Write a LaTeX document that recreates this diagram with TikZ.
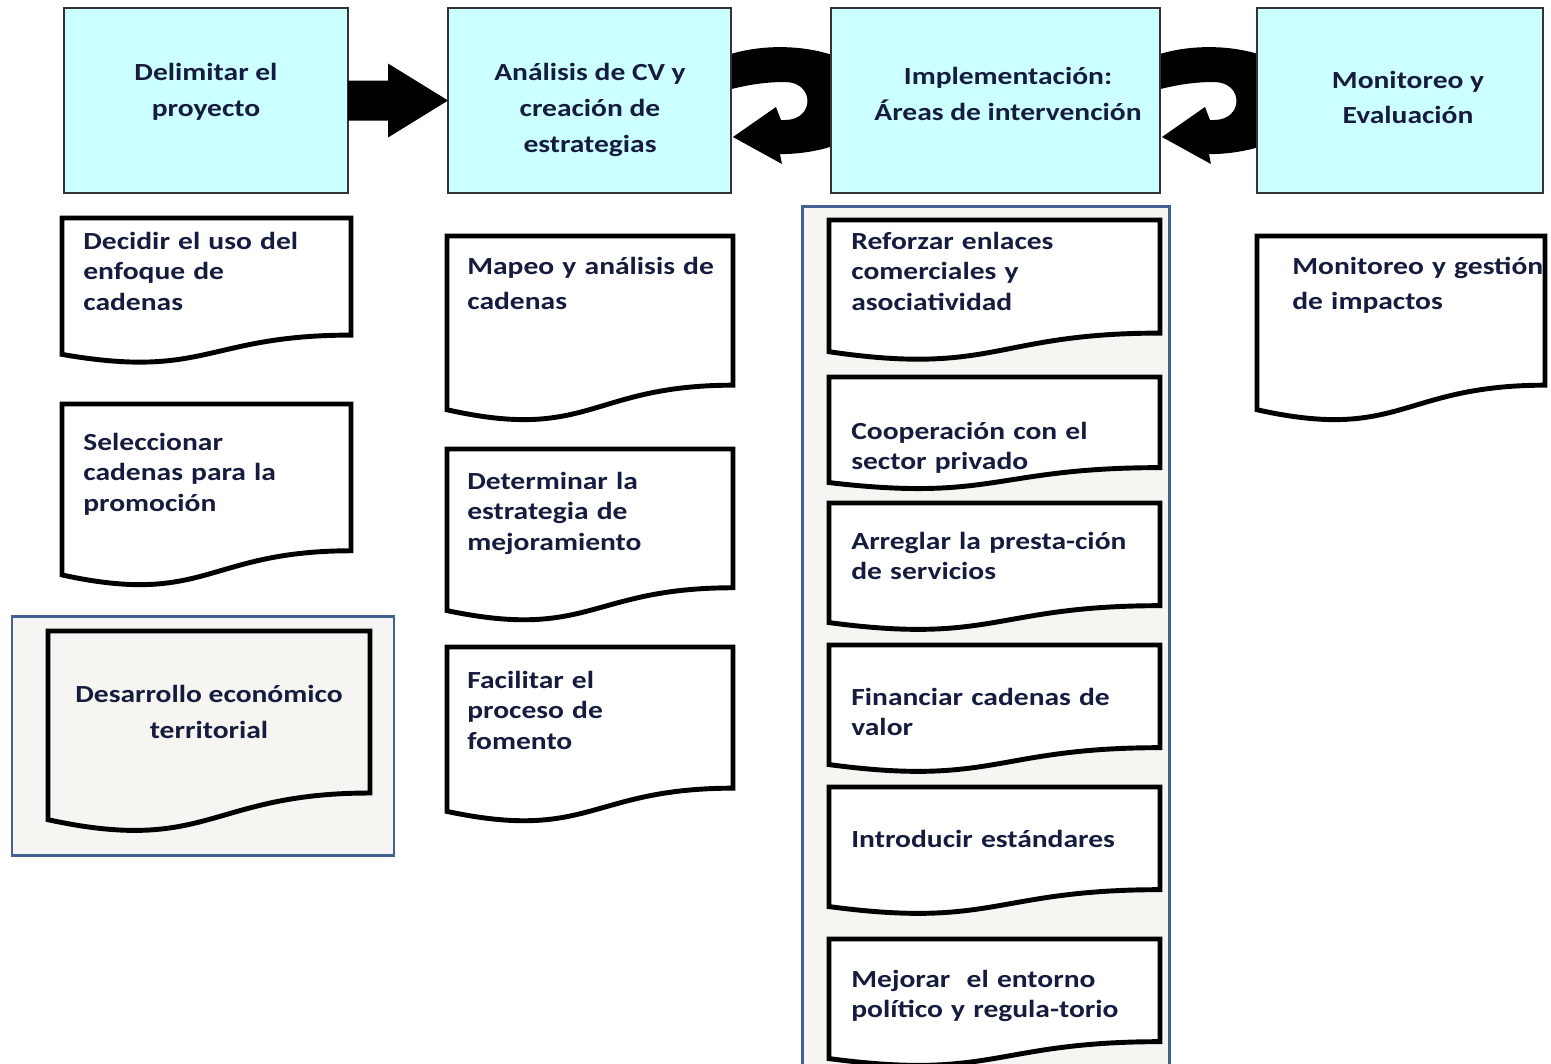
\documentclass[tikz,border=0pt]{standalone}
\usepackage{fontspec}
\newfontfamily\docfont{Carlito}[FakeStretch=1.2]
\usetikzlibrary{calc}
\pgfdeclarelayer{background}
\pgfsetlayers{background,main}
\definecolor{navytext}{RGB}{22,28,62}
\definecolor{cyanfill}{RGB}{204,255,255}
\definecolor{contblue}{RGB}{66,96,145}
\definecolor{contfill}{RGB}{246,245,241}
\newcommand\docsh[5]{%
  \pgfmathsetmacro\dA{#3+0.802*#4}%
  \pgfmathsetmacro\dB{#3+1.107*#4}%
  \pgfmathsetmacro\dC{#3+0.934*#4}%
  \pgfmathsetmacro\dM{(#1+#2)/2}%
  \draw[docline, fill=#5] (#1,#3) -- (#2,#3) -- (#2,\dA)
    .. controls (\dM,\dA) and (\dM,\dB) .. (#1,\dC) -- cycle;}
\begin{document}
\begin{tikzpicture}[x=0.02cm,y=-0.02cm,
  docline/.style={draw=black, line width=2.8pt, line join=miter},
  topbox/.style={draw=black!80, line width=1.1pt, fill=cyanfill, inner sep=0pt, outer sep=0pt, minimum height=3.7cm},
  toptext/.style={inner sep=0pt, align=center, text=navytext, font={\docfont\fontsize{14}{20.4}\selectfont\bfseries}},
  doctext/.style={anchor=base west, inner sep=0pt, text width=10cm, align=left, text=navytext, font={\docfont\fontsize{14}{17.6}\selectfont\bfseries}},
  container/.style={draw=contblue, line width=1.7pt, fill=contfill}]
\useasboundingbox (0,0) rectangle (1551,1063);
\clip (0,0) rectangle (1551,1063);

% top boxes
\node[topbox, minimum width=5.68cm] (t1) at (206,100.5) {};
\node[topbox, minimum width=5.66cm] (t2) at (589.5,100.5) {};
\node[topbox, minimum width=6.58cm] (t3) at (995.5,100.5) {};
\node[topbox, minimum width=5.72cm] (t4) at (1400,100.5) {};

\node[toptext] (t1l) at (206,92) {Delimitar el\\proyecto};
\node[toptext] (t2l) at (590,110) {Análisis de CV y\\creación de\\estrategias};
\node[toptext] (t3l) at (1008,94) {Implementación:\\Áreas de intervención};
\node[toptext] (t4l) at (1408,97.5) {Monitoreo y\\Evaluación};

% straight block arrow
\fill[black] ($(t1.east)+(0,-20)$) -- ($(t2.west)+(-60,-20)$) -- ($(t2.west)+(-60,-37)$)
  -- (t2.west) -- ($(t2.west)+(-60,37)$) -- ($(t2.west)+(-60,20)$) -- ($(t1.east)+(0,20)$) -- cycle;

% curved return arrows
\begin{pgfonlayer}{background}
\foreach \n in {t2,t3} {
  \fill[black, shift={(\n.east)}] (-31,-32)
    arc[start angle=-143.13, end angle=90, x radius=100, y radius=53.5]
    -- (51,63.5) -- (2,36.5) -- (45,6.5) -- (50,19.5) -- (54,19.5)
    .. controls (84,19.5) and (84,-18.5) .. (54,-18.5)
    .. controls (24,-18.5) and (4,-12.5) .. (-31,-3.5) -- cycle;
}
\end{pgfonlayer}

% column 1
\docsh{62}{351}{218}{146}{white}
\node[doctext] (d1) at (83,249) {Decidir el uso del\\enfoque de\\cadenas};
\docsh{62}{351}{404}{183}{white}
\node[doctext] (d2) at (83,450) {Seleccionar\\cadenas para la\\promoción};
\draw[container] (12,616) rectangle (394,855);
\docsh{48}{370}{631}{202}{contfill}
\node[toptext] (d3) at (209,712) {Desarrollo económico\\territorial};

% column 2
\docsh{447}{733}{236}{186}{white}
\node[doctext] (d4) at (467,274) {Mapeo y análisis de\\[2.8pt]cadenas};
\docsh{447}{733}{449}{173}{white}
\node[doctext] (d5) at (467,489) {Determinar la\\estrategia de\\mejoramiento};
\docsh{447}{733}{647}{176}{white}
\node[doctext] (d6) at (467,688) {Facilitar el\\proceso de\\fomento};

% column 3
\draw[container] (802,206) rectangle (1169,1090);
\docsh{829}{1160}{220}{141}{white}
\node[doctext] (d7) at (851,249) {Reforzar enlaces\\comerciales y\\asociatividad};
\docsh{829}{1160}{377}{113}{white}
\node[doctext] (d8) at (851,439) {Cooperación con el\\sector privado};
\docsh{829}{1160}{503}{128}{white}
\node[doctext] (d9) at (851,549) {Arreglar la presta-ción\\de servicios};
\docsh{829}{1160}{645}{128}{white}
\node[doctext] (d10) at (851,705) {Financiar cadenas de\\valor};
\docsh{829}{1160}{787}{128}{white}
\node[doctext] (d11) at (851,847) {Introducir estándares};
\docsh{829}{1160}{939}{128}{white}
\node[doctext] (d12) at (851,987) {Mejorar\ \ el entorno\\político y regula-torio};

% column 4
\docsh{1257}{1545}{236}{186}{white}
\node[doctext] (d13) at (1292,274) {Monitoreo y gestión\\[2.8pt]de impactos};
\end{tikzpicture}
\end{document}
